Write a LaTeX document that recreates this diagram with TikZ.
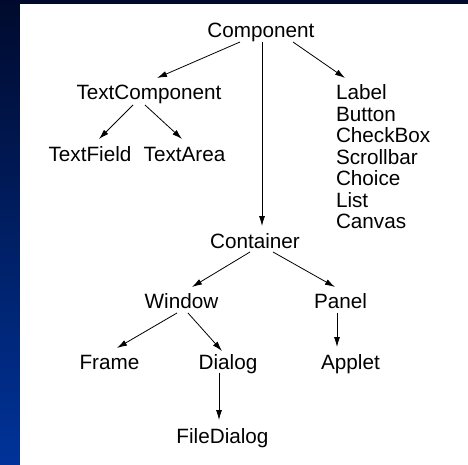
\documentclass[tikz,border=0pt]{standalone}
\usepackage{fontspec}
\setmainfont{Liberation Sans}
\usepackage{tikz}
\usetikzlibrary{arrows.meta, positioning, calc}

\definecolor{navytop}{RGB}{0,10,45}
\definecolor{navybot}{RGB}{0,51,153}

\begin{document}
\begin{tikzpicture}[x=1pt, y=-1pt,
  cls/.style={font=\fontsize{20.7}{24}\selectfont, inner sep=0pt, outer sep=0pt, text height=15pt, text depth=4pt, anchor=base},
  inh/.style={-{Latex[length=10pt,width=6pt]}, line width=0.8pt}]
\useasboundingbox (0,0) rectangle (468,465);
\fill[top color=navytop, bottom color=navybot] (0,0) rectangle (468,465);
\fill[white] (20,4) rectangle (468,465);

% class names
\node[cls] (comp) at (261,38) {Component};
\node[cls] (textcomp) at (149,100) {TextComponent};
\node[cls] (textfield) at (90,162) {TextField};
\node[cls] (textarea) at (184.5,162) {TextArea};
\foreach \w [count=\i from 0] in {Label,Button,CheckBox,Scrollbar,Choice,List,Canvas}
  \node[cls, anchor=base west] (w\i) at (336,100+21.4*\i) {\w};
\node[cls] (container) at (255,248) {Container};
\node[cls] (window) at (181.5,308) {Window};
\node[cls] (panel) at (340.5,308) {Panel};
\node[cls] (frame) at (109.5,369) {Frame};
\node[cls] (dialog) at (228,369) {Dialog};
\node[cls] (applet) at (350.5,369) {Applet};
\node[cls] (filedialog) at (222.5,443) {FileDialog};

% inheritance arrows
\draw[inh] ([xshift=-21pt]comp.south) -- ([xshift=8pt,yshift=7pt]textcomp.north);
\draw[inh] ([xshift=1pt]comp.south) -- ([xshift=7pt,yshift=7pt]container.north);
\draw[inh] ([xshift=32pt]comp.south) -- ([xshift=9pt,yshift=7pt]w0.north west);
\draw[inh] ([xshift=-16pt,yshift=-1pt]textcomp.south) -- ([xshift=9pt,yshift=8pt]textfield.north);
\draw[inh] ([xshift=-4pt,yshift=-1pt]textcomp.south) -- ([xshift=-2.5pt,yshift=8pt]textarea.north);
\draw[inh] ([xshift=-5pt]container.south) -- ([xshift=10.5pt,yshift=6pt]window.north);
\draw[inh] ([xshift=18pt]container.south) -- ([xshift=-5.5pt,yshift=6pt]panel.north);
\draw[inh] ([xshift=-4.5pt,yshift=-1pt]window.south) -- ([xshift=7.5pt,yshift=6pt]frame.north);
\draw[inh] ([xshift=6.5pt,yshift=-1pt]window.south) -- ([xshift=-6pt,yshift=3pt]dialog.north);
\draw[inh] ([xshift=-3.5pt,yshift=-1pt]panel.south) -- ([xshift=-13.5pt,yshift=7pt]applet.north);
\draw[inh] ([xshift=-9pt]dialog.south) -- ([xshift=-3.5pt,yshift=8pt]filedialog.north);
\end{tikzpicture}
\end{document}
